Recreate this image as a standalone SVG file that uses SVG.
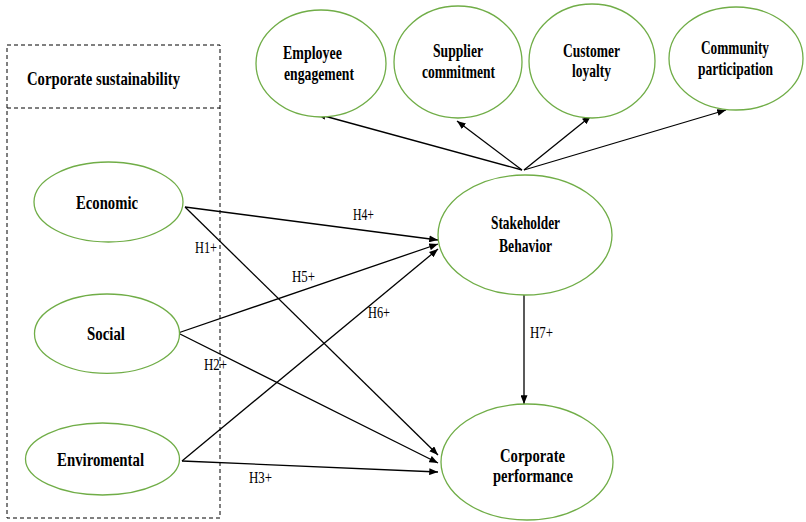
<svg xmlns="http://www.w3.org/2000/svg" width="806" height="522" viewBox="0 0 806 522">
<defs>
<style>
.n{fill:#fff;stroke:#70AD47;stroke-width:1.3}
.b{font-family:"Liberation Serif","Times New Roman",serif;font-weight:bold;font-size:19px;fill:#000}
.h{font-family:"Liberation Serif","Times New Roman",serif;font-size:16px;fill:#000}
.c{stroke:#000;stroke-width:1.3;fill:none;marker-end:url(#ah)}
.d{fill:none;stroke:#000;stroke-width:1;stroke-dasharray:4,3}
</style>
<marker id="ah" viewBox="0 0 10 8" refX="10" refY="4" markerWidth="9" markerHeight="7" markerUnits="userSpaceOnUse" orient="auto">
<path d="M0,0 L10,4 L0,8 z" fill="#000"/>
</marker>
</defs>
<rect width="806" height="522" fill="#fff"/>
<g id="frame">
<rect class="d" x="7" y="45" width="213" height="473"/>
<line class="d" x1="7" y1="108" x2="220" y2="108"/>
<text class="b" x="27" y="85" font-size="18" textLength="153" lengthAdjust="spacingAndGlyphs">Corporate sustainability</text>
</g>
<g id="connectors">
<path class="c" d="M185,207 L438,240"/>
<path class="c" d="M185,207 L438,455"/>
<path class="c" d="M178,333 L438,244"/>
<path class="c" d="M178,333 L438,463"/>
<path class="c" d="M182,461 L438,249"/>
<path class="c" d="M182,461 L438,472"/>
<path class="c" d="M524,295 L524,404"/>
<path class="c" d="M522,170 L317,114"/>
<path class="c" d="M522,170 L457,121"/>
<path class="c" d="M524,170 L591,116"/>
<path class="c" d="M524,170 L726,110"/>
<text class="h" x="195" y="253" textLength="22" lengthAdjust="spacingAndGlyphs">H1+</text>
<text class="h" x="204" y="370" textLength="23" lengthAdjust="spacingAndGlyphs">H2+</text>
<text class="h" x="249" y="483" textLength="23" lengthAdjust="spacingAndGlyphs">H3+</text>
<text class="h" x="353" y="220" textLength="21" lengthAdjust="spacingAndGlyphs">H4+</text>
<text class="h" x="292" y="282" textLength="23" lengthAdjust="spacingAndGlyphs">H5+</text>
<text class="h" x="368" y="318" textLength="22" lengthAdjust="spacingAndGlyphs">H6+</text>
<text class="h" x="530" y="338" textLength="23" lengthAdjust="spacingAndGlyphs">H7+</text>
</g>
<g id="employee">
<ellipse class="n" cx="321" cy="63.5" rx="65" ry="53.5"/>
<text class="b" x="283" y="59" textLength="59" lengthAdjust="spacingAndGlyphs">Employee</text>
<text class="b" x="284" y="80" textLength="70" lengthAdjust="spacingAndGlyphs">engagement</text>
</g>
<g id="supplier">
<ellipse class="n" cx="458" cy="62" rx="64" ry="56"/>
<text class="b" x="433" y="57" textLength="50" lengthAdjust="spacingAndGlyphs">Supplier</text>
<text class="b" x="422" y="78" textLength="73" lengthAdjust="spacingAndGlyphs">commitment</text>
</g>
<g id="customer">
<ellipse class="n" cx="592" cy="61" rx="63" ry="57"/>
<text class="b" x="563" y="57" textLength="57" lengthAdjust="spacingAndGlyphs">Customer</text>
<text class="b" x="572" y="77" textLength="39" lengthAdjust="spacingAndGlyphs">loyalty</text>
</g>
<g id="community">
<ellipse class="n" cx="736" cy="58.5" rx="67" ry="51.5"/>
<text class="b" x="701" y="54" textLength="68" lengthAdjust="spacingAndGlyphs">Community</text>
<text class="b" x="698" y="75" textLength="75" lengthAdjust="spacingAndGlyphs">participation</text>
</g>
<g id="stakeholder">
<ellipse class="n" cx="525" cy="235" rx="87" ry="60"/>
<text class="b" x="491" y="229" textLength="69" lengthAdjust="spacingAndGlyphs">Stakeholder</text>
<text class="b" x="499" y="252" textLength="53" lengthAdjust="spacingAndGlyphs">Behavior</text>
</g>
<g id="performance">
<ellipse class="n" cx="527" cy="462" rx="86" ry="58"/>
<text class="b" x="500" y="462" font-size="22" textLength="65" lengthAdjust="spacingAndGlyphs">Corporate</text>
<text class="b" x="493" y="482" font-size="22" textLength="80" lengthAdjust="spacingAndGlyphs">performance</text>
</g>
<g id="economic">
<ellipse class="n" cx="108.5" cy="202" rx="74.5" ry="40"/>
<text class="b" x="76" y="209" textLength="62" lengthAdjust="spacingAndGlyphs">Economic</text>
</g>
<g id="social">
<ellipse class="n" cx="107" cy="333.7" rx="72.5" ry="39.7"/>
<text class="b" x="87" y="340" textLength="38" lengthAdjust="spacingAndGlyphs">Social</text>
</g>
<g id="enviromental">
<ellipse class="n" cx="102.5" cy="459" rx="77" ry="36"/>
<text class="b" x="57" y="466" textLength="87" lengthAdjust="spacingAndGlyphs">Enviromental</text>
</g>
</svg>
